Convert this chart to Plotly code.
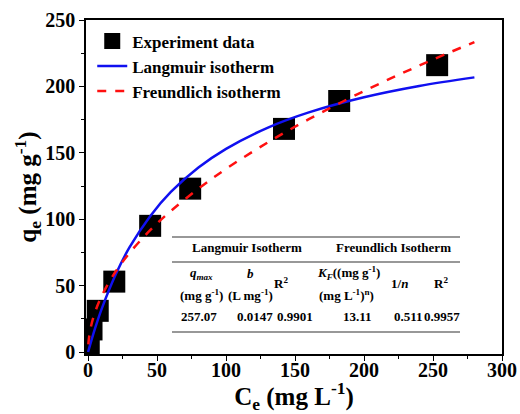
import plotly.graph_objects as go

exp_c = [0.5, 2.5, 7, 19, 45, 74, 142, 182, 253]
exp_q = [6, 17, 31, 53, 95, 123, 168, 189, 216]

# Langmuir fitted curve
lang_c = [0, 5, 10, 20, 30, 45, 60, 80, 100, 130, 160, 200, 240, 280]
lang_q = [0, 17.6, 32.9, 58.4, 78.7, 102.3, 120.5, 138.9, 153.0, 168.8, 180.4, 191.8, 200.3, 206.8]

# Freundlich fitted curve
freu_c = [0.2, 0.5, 2, 5, 10, 20, 30, 45, 60, 80, 100, 130, 160, 200, 240, 280]
freu_q = [5.8, 9.2, 18.7, 29.8, 42.5, 60.6, 74.5, 91.7, 106.2, 123.0, 137.9, 157.7, 175.3, 196.5, 215.7, 233.4]

# Table contents
tbl_groups = ["Langmuir Isotherm", "Freundlich Isotherm"]
tbl_head1 = ["<i>q<sub>max</sub></i>", "<i>b</i>", "R<sup>2</sup>",
             "<i>K<sub>F</sub></i>((mg g<sup>-1</sup>)", "1/<i>n</i>", "R<sup>2</sup>"]
tbl_head2 = ["(mg g<sup>-1</sup>)", "(L mg<sup>-1</sup>)", "", "(mg L<sup>-1</sup>)<sup>n</sup>)", "", ""]
tbl_values = ["257.07", "0.0147", "0.9901", "13.11", "0.511", "0.9957"]

FONT = "Liberation Serif"

fig = go.Figure()
fig.add_trace(go.Scatter(x=exp_c, y=exp_q, mode="markers", name="<b>Experiment data</b>",
                         marker=dict(symbol="square", size=22, color="black",
                                     line=dict(width=0))))
fig.add_trace(go.Scatter(x=lang_c, y=lang_q, mode="lines", name="<b>Langmuir isotherm</b>",
                         line=dict(color="#1010f0", width=2.5, shape="spline")))
fig.add_trace(go.Scatter(x=freu_c, y=freu_q, mode="lines", name="<b>Freundlich isotherm</b>",
                         line=dict(color="#ff1010", width=2.5, dash="dash", shape="spline")))

L, R, T, B = 86, 502, 20, 354


def px(x):
    return (x - L) / (R - L)


def py(y):
    return (B - y) / (B - T)


# table lines
for yl in [237, 262, 332]:
    fig.add_shape(type="line", xref="paper", yref="paper",
                  x0=px(172), x1=px(460), y0=py(yl), y1=py(yl),
                  line=dict(color="#333333", width=1.2))

ann = []
tf = dict(family=FONT, size=13, color="black")
for txt, xc in zip(tbl_groups, [247, 393]):
    ann.append(dict(text=txt, x=px(xc), y=py(247)))
col_x1 = [201, 250, 281, 348, 399, 441]
col_y1 = [273, 273, 283, 273, 283, 283]
for txt, xc, yc in zip(tbl_head1, col_x1, col_y1):
    ann.append(dict(text=txt, x=px(xc), y=py(yc)))
col_x2 = [201, 250, 281, 346, 399, 441]
for txt, xc in zip(tbl_head2, col_x2):
    if txt:
        ann.append(dict(text=txt, x=px(xc), y=py(295)))
col_x3 = [199, 255, 295, 357, 408, 442]
for txt, xc in zip(tbl_values, col_x3):
    ann.append(dict(text=txt, x=px(xc), y=py(316)))
for a in ann:
    a["text"] = "<b>" + a["text"] + "</b>"
    fig.add_annotation(xref="paper", yref="paper", showarrow=False,
                       xanchor="center", yanchor="middle", font=tf, **a)

axis_common = dict(showline=True, linecolor="black", linewidth=1.5, mirror=True,
                   ticks="outside", ticklen=5, tickwidth=1.2, tickcolor="black",
                   showgrid=False, zeroline=False, automargin=False,
                   tickfont=dict(family=FONT, size=20, color="black"),
                   minor=dict(ticks="outside", ticklen=3, tickwidth=1.2, tickcolor="black",
                              dtick=25, showgrid=False))

fig.update_layout(
    template="none",
    width=520, height=414,
    margin=dict(l=L, r=520 - R, t=T, b=414 - B),
    paper_bgcolor="white", plot_bgcolor="white",
    font=dict(family=FONT, color="black"),
    xaxis=dict(range=[-1.5, 300], dtick=50, ticklabelstandoff=-8,
               title=dict(text="<b>C<sub>e</sub> (mg L<sup>-1</sup>)</b>", standoff=8,
                          font=dict(family=FONT, size=25, color="black")),
               **axis_common),
    yaxis=dict(range=[-1.5, 250], dtick=50,
               title=dict(text="<b>q<sub>e</sub> (mg g<sup>-1</sup>)</b>", standoff=1,
                          font=dict(family=FONT, size=25, color="black")),
               **axis_common),
    legend=dict(x=0.015, y=0.99, xanchor="left", yanchor="top",
                bgcolor="rgba(0,0,0,0)",
                font=dict(family=FONT, size=17, color="black")),
    showlegend=True,
)
fig.update_xaxes(tickprefix="<b>", ticksuffix="</b>")
fig.update_yaxes(tickprefix="<b>", ticksuffix="</b>")

fig.write_html("out.html")
